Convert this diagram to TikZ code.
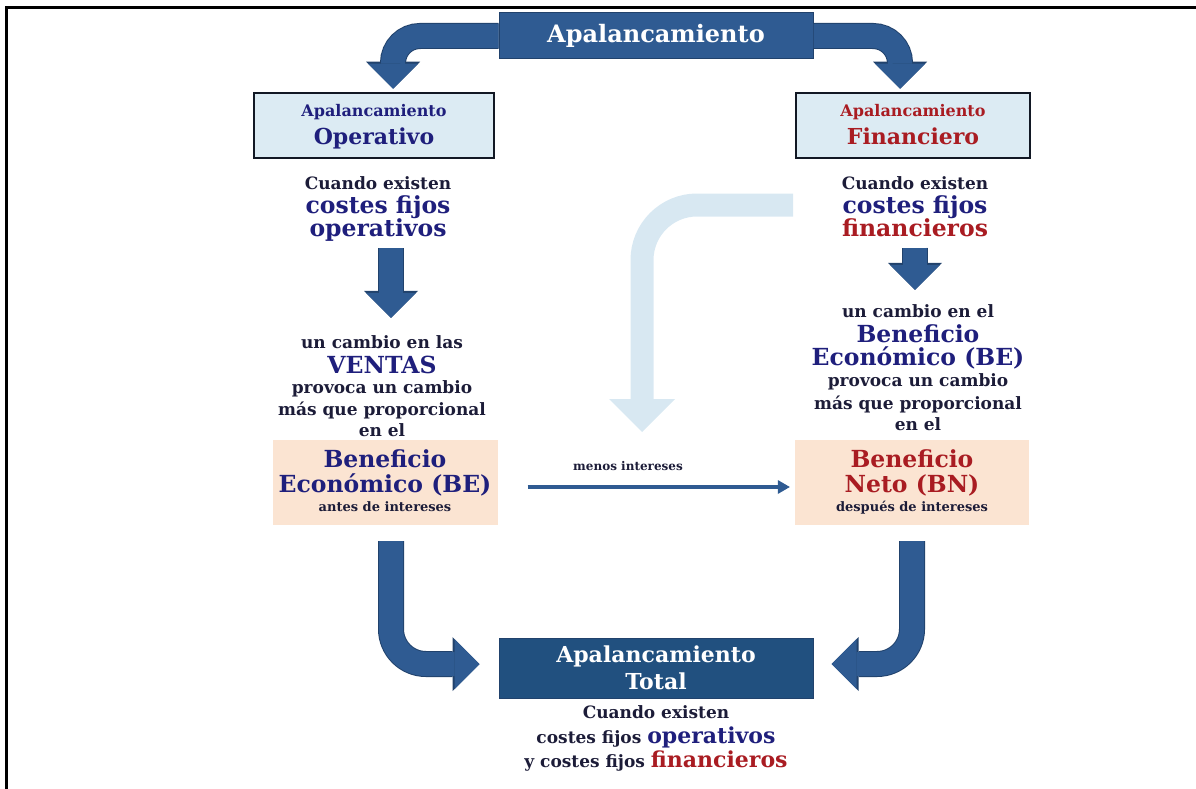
\documentclass[tikz,border=0pt]{standalone}
\usepackage{fontspec}
\setmainfont{DejaVu Serif}
\usetikzlibrary{arrows.meta}

\definecolor{arrowblue}{HTML}{2F5B92}
\definecolor{arrowedge}{HTML}{21426C}
\definecolor{totalblue}{HTML}{21507F}
\definecolor{lightfill}{HTML}{DCEBF3}
\definecolor{peach}{HTML}{FBE4D2}
\definecolor{lightarr}{HTML}{D8E8F2}
\definecolor{navytext}{HTML}{1F1F7C}
\definecolor{darktext}{HTML}{1C1C38}
\definecolor{redtext}{HTML}{A91C22}
\definecolor{frame}{HTML}{121824}

\newcommand\fsz[1]{\fontsize{#1}{#1}\selectfont}

\begin{document}
\begin{tikzpicture}[x=1pt,y=-1pt,
  lbl/.style={anchor=base, inner sep=0pt},
  small/.style={lbl, font=\bfseries\fsz{17}, text=darktext},
  big/.style={lbl, font=\bfseries\fsz{23.5}, text=navytext},
  bigred/.style={big, text=redtext},
  tiny/.style={lbl, font=\bfseries\fsz{13}, text=darktext},
  boxtitle/.style={lbl, font=\bfseries\fsz{16}, text=navytext},
  boxname/.style={lbl, font=\bfseries\fsz{22}, text=navytext},
  whitetxt/.style={lbl, font=\bfseries\fsz{22}, text=white},
  headbox/.style={inner sep=0pt, fill=arrowblue, draw=arrowedge, line width=1pt},
  framebox/.style={inner sep=0pt, fill=lightfill, draw=frame, line width=2.5pt},
  peachbox/.style={inner sep=0pt, fill=peach},
  bigarrow/.style={draw=arrowblue, line width=24pt, rounded corners=#1,
    -{Triangle[width=50pt,length=25pt,line width=0pt]},
    preaction={draw=arrowedge, line width=26pt,
      -{Triangle[width=54pt,length=27pt,line width=0pt]}}},
  downarrow/.style={bigarrow=0pt},
  lightarrow/.style={draw=lightarr, line width=23pt, rounded corners=55pt,
    -{Triangle[width=66pt,length=33pt,line width=0pt]}},
  thinarrow/.style={draw=arrowblue, line width=4.5pt,
    -{Triangle[width=14pt,length=12pt,line width=0pt]}}
]
\useasboundingbox (0,0) rectangle (1196,789);

% outer frame (top and left edges)
\draw[line width=3pt, black] (6,789) -- (6,7.5) -- (1196,7.5);

% boxes
\node[headbox, minimum width=314pt, minimum height=46pt,
      font=\bfseries\fsz{24}, text=white] (apal) at (656,36) {Apalancamiento};
\node[framebox, minimum width=240pt, minimum height=65pt] (op) at (374,125.5) {};
\node[framebox, minimum width=234pt, minimum height=65pt] (fin) at (913,125.5) {};
\node[peachbox, minimum width=225pt, minimum height=85pt] (be) at (385,482.5) {};
\node[peachbox, minimum width=234pt, minimum height=85pt] (bn) at (912,482.5) {};
\node[headbox, fill=totalblue, minimum width=314pt, minimum height=60pt] (total) at (656,668) {};

% texts inside the framed boxes
\node[boxtitle] (op1) at (374,117) {Apalancamiento};
\node[boxname]  (op2) at (374,145) {Operativo};
\node[boxtitle, text=redtext] (fin1) at (913,117) {Apalancamiento};
\node[boxname, text=redtext]  (fin2) at (913,145) {Financiero};

% left column
\node[small] (lq1) at (378,189) {Cuando existen};
\node[big]   (lq2) at (378,213) {costes fijos};
\node[big]   (lq3) at (378,236) {operativos};
\node[small] (lv1) at (382,348) {un cambio en las};
\node[big]   (lv2) at (382,373) {VENTAS};
\node[small] (lv3) at (382,393) {provoca un cambio};
\node[small] (lv4) at (382,415) {más que proporcional};
\node[small] (lv5) at (382,436) {en el};
\node[big]   (lb1) at (385,467) {Beneficio};
\node[big]   (lb2) at (385,492) {Económico (BE)};
\node[tiny]  (lb3) at (385,511) {antes de intereses};

% right column
\node[small]  (rq1) at (915,189) {Cuando existen};
\node[big]    (rq2) at (915,213) {costes fijos};
\node[bigred] (rq3) at (915,236) {financieros};
\node[small]  (rv1) at (918,317) {un cambio en el};
\node[big]    (rv2) at (918,342) {Beneficio};
\node[big]    (rv3) at (918,365) {Económico (BE)};
\node[small]  (rv4) at (918,386) {provoca un cambio};
\node[small]  (rv5) at (918,409) {más que proporcional};
\node[small]  (rv6) at (918,430) {en el};
\node[bigred] (rb1) at (912,467) {Beneficio};
\node[bigred] (rb2) at (912,492) {Neto (BN)};
\node[tiny]   (rb3) at (912,511) {después de intereses};

% middle
\node[lbl, font=\bfseries\fsz{12}, text=darktext] (menos) at (628,470) {menos intereses};
\node[whitetxt] (tot1) at (656,662) {Apalancamiento};
\node[whitetxt] (tot2) at (656,689) {Total};
\node[lbl, font=\bfseries\fsz{17}, text=darktext] (bq1) at (656,718) {Cuando existen};
\node[lbl, font=\bfseries\fsz{17}, text=darktext] (bq2) at (656,743)
  {costes fijos {\fsz{22}\color{navytext}operativos}};
\node[lbl, font=\bfseries\fsz{17}, text=darktext] (bq3) at (656,767)
  {y costes fijos {\fsz{22}\color{redtext}financieros}};

% connectors
\coordinate (lstart) at (793,205);
\coordinate (ltip) at (642,432);
\draw[lightarrow] (lstart) -| (ltip);

\draw[bigarrow=27pt] (apal.west) -| ([xshift=19pt,yshift=3pt]op.north);
\draw[bigarrow=27pt] (apal.east) -| ([xshift=-13pt,yshift=3pt]fin.north);

\draw[downarrow] ([xshift=13pt,yshift=-7pt]lq3.south) -- ([xshift=9pt,yshift=17pt]lv1.north);
\draw[downarrow] ([yshift=-11pt]rq3.south) -- ([xshift=-3pt,yshift=14pt]rv1.north);

\draw[thinarrow] ([xshift=30pt,yshift=-4.5pt]be.east) -- ([xshift=-5pt,yshift=-4.5pt]bn.west);

\draw[bigarrow=35pt] ([xshift=6pt,yshift=-16pt]be.south) |- ([xshift=-19pt,yshift=4pt]total.west);
\draw[bigarrow=35pt] ([yshift=-16pt]bn.south) |- ([xshift=18pt,yshift=4pt]total.east);
\end{tikzpicture}
\end{document}
